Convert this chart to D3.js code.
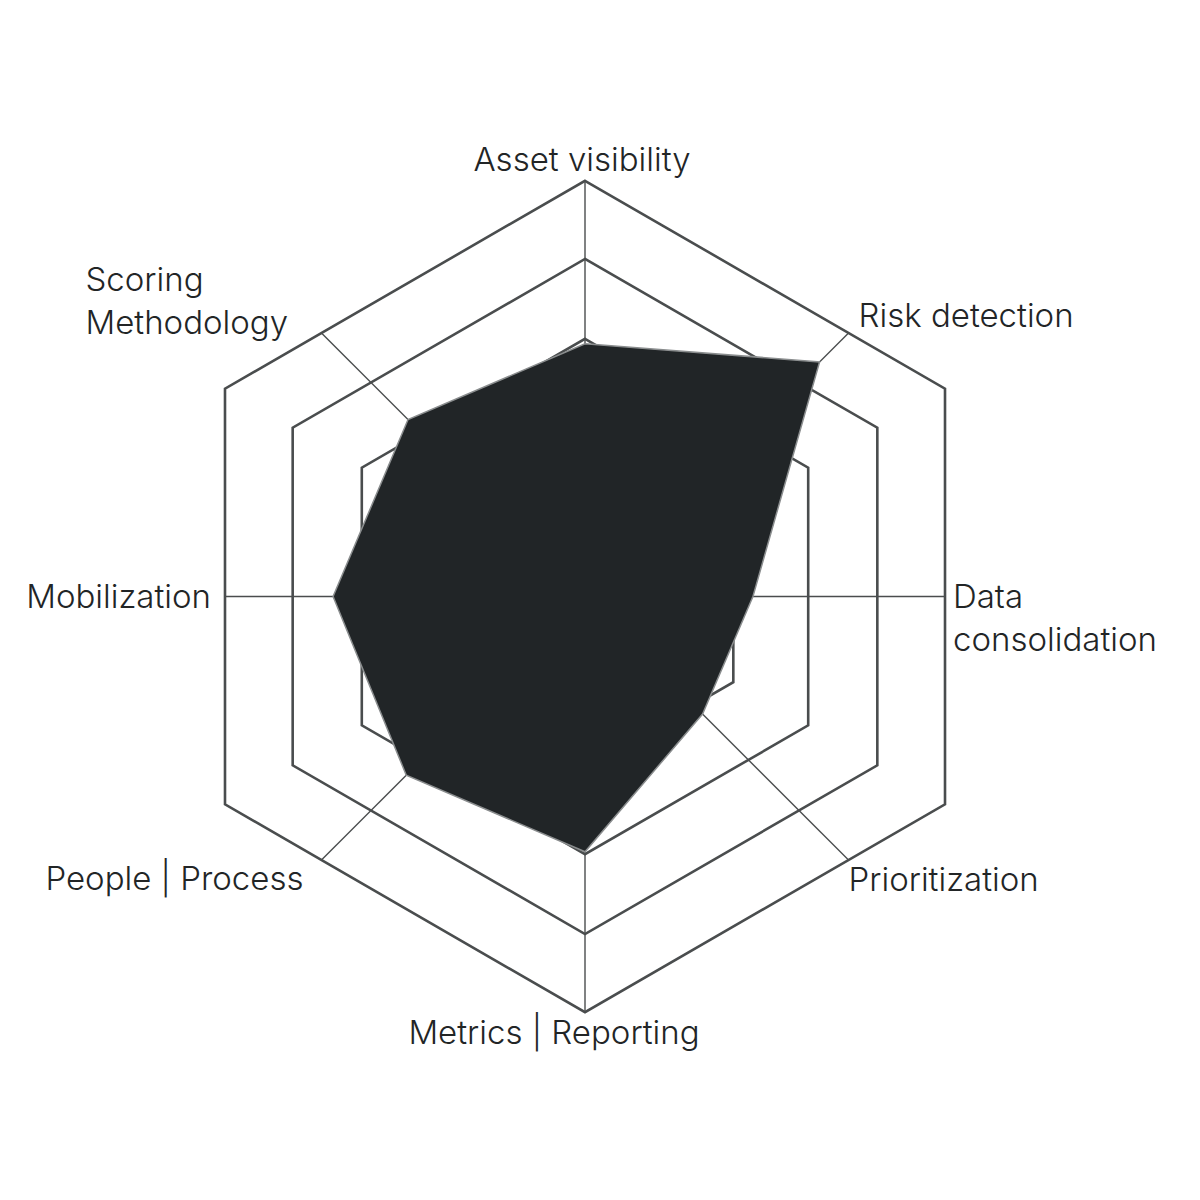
<!DOCTYPE html>
<html>
<head>
<meta charset="utf-8">
<script src="https://cdn.jsdelivr.net/npm/d3@7"></script>
<style>
  html, body { margin: 0; padding: 0; background: #ffffff; }
  svg { display: block; }
  text { font-family: Inter, "Noto Sans", sans-serif; font-weight: 300; fill: #222526; }
</style>
</head>
<body>
<svg id="chart" width="1200" height="1200"></svg>
<script>
// ---- data ----
const axisLabels = [
  ["Asset visibility"],
  ["Risk detection"],
  ["Data", "consolidation"],
  ["Prioritization"],
  ["Metrics | Reporting"],
  ["People | Process"],
  ["Mobilization"],
  ["Scoring", "Methodology"]
];
const scores = [3.04, 3.99, 2.02, 2.0, 3.07, 3.04, 3.03, 3.01];
const gridLevels = [2.06, 3.1, 4.06, 5];
const maxValue = 5;

// ---- layout ----
const cx = 585, cy = 596.5, R = 415.7;
const labelFontSize = 33, lineHeight = 43;
// per-axis label placement relative to the axis end point: [dx, dy (first baseline), anchor]
const labelPlacement = [
  [-3, -10, "middle"],
  [10, -6, "start"],
  [8, 11, "start"],
  [0, 31, "start"],
  [-31, 32, "middle"],
  [-18, 30, "end"],
  [-14, 11.5, "end"],
  [-236, -42, "start"]
];

const svg = d3.select("#chart");
const r = d3.scaleLinear().domain([0, maxValue]).range([0, R]);
const n = axisLabels.length;
const angle = d3.scaleLinear().domain([0, n]).range([0, 2 * Math.PI]);
const pt = (a, rad) => [cx + rad * Math.sin(a), cy - rad * Math.cos(a)];

// hexagonal grid (pointy top)
const hexAngles = d3.range(6).map(j => j * Math.PI / 3);
const gridG = svg.append("g");
gridG.selectAll("path.grid")
  .data(gridLevels)
  .join("path")
  .attr("class", "grid")
  .attr("d", v => d3.line()(hexAngles.map(a => pt(a, r(v)))) + "Z")
  .attr("fill", "none")
  .attr("stroke", "#4a4d4e")
  .attr("stroke-width", 2.6)
  .attr("stroke-linejoin", "miter");

// axis lines out to the outer hexagon edge
const inR = R * Math.cos(Math.PI / 6);
function edgeDist(a) {
  let deg = a * 180 / Math.PI;
  let d = ((deg - 30) % 60 + 60) % 60;
  if (d > 30) d = 60 - d;
  return inR / Math.cos(d * Math.PI / 180);
}
const axisEnds = d3.range(n).map(i => pt(angle(i), edgeDist(angle(i))));
gridG.selectAll("line.axis")
  .data(axisEnds)
  .join("line")
  .attr("class", "axis")
  .attr("x1", cx).attr("y1", cy)
  .attr("x2", d => d[0]).attr("y2", d => d[1])
  .attr("stroke", "#4a4d4e")
  .attr("stroke-width", 1.4);

// data polygon
const dataPts = scores.map((v, i) => pt(angle(i), r(v)));
svg.append("path")
  .attr("d", d3.line()(dataPts) + "Z")
  .attr("fill", "#212527")
  .attr("stroke", "#8a8d8e")
  .attr("stroke-width", 1.5)
  .attr("stroke-linejoin", "miter");

// labels
const labelG = svg.append("g");
axisLabels.forEach((lines, i) => {
  const [ex, ey] = axisEnds[i];
  const [dx, dy, anchor] = labelPlacement[i];
  const t = labelG.append("text")
    .attr("x", ex + dx)
    .attr("y", ey + dy)
    .attr("text-anchor", anchor)
    .attr("font-size", labelFontSize);
  lines.forEach((ln, k) => {
    t.append("tspan")
      .attr("x", ex + dx)
      .attr("dy", k === 0 ? 0 : lineHeight)
      .text(ln);
  });
});
</script>
</body>
</html>
